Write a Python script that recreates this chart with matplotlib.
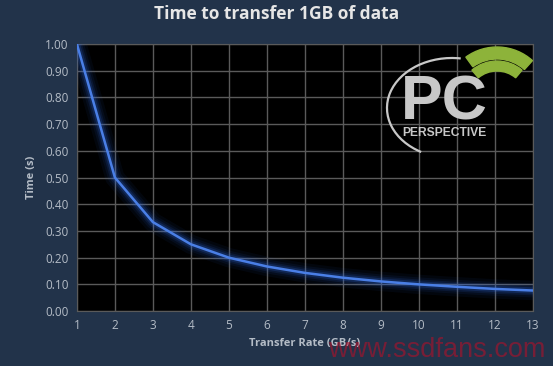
import matplotlib.pyplot as plt
from matplotlib.patches import Wedge, Arc

# data
rates = [1, 2, 3, 4, 5, 6, 7, 8, 9, 10, 11, 12, 13]
times = [1.00, 0.50, 0.333, 0.25, 0.20, 0.167, 0.143, 0.125, 0.111, 0.10, 0.091, 0.083, 0.077]
y_ticks = [0.0, 0.1, 0.2, 0.3, 0.4, 0.5, 0.6, 0.7, 0.8, 0.9, 1.0]

bg = '#22334a'
tick_col = '#b4bcc6'
H = 366

fig = plt.figure(figsize=(5.53, 3.66), dpi=100, facecolor=bg)
ax = fig.add_axes([0.139, 0.150, 0.825, 0.730])
ax.set_facecolor('black')

# glow around the line
for lw, a in [(14, 0.06), (10, 0.08), (7, 0.12), (4.5, 0.2)]:
    ax.plot(rates, times, color='#2f6ae0', lw=lw, alpha=a, solid_capstyle='round', zorder=3)
ax.plot(rates, times, color='#4a7fe6', lw=1.8, zorder=4)

ax.set_xlim(1, 13)
ax.set_ylim(0, 1)
ax.set_xticks(rates)
ax.set_yticks(y_ticks)
ax.set_yticklabels(['%.2f' % v for v in y_ticks])
ax.grid(True, color='#5a5a5a', lw=1)
ax.set_axisbelow(True)
for s in ax.spines.values():
    s.set_color('#5a5a5a')
ax.tick_params(length=0, colors=tick_col, labelsize=8.5, pad=6)
for lab in ax.get_xticklabels() + ax.get_yticklabels():
    lab.set_fontfamily('Open Sans')

ax.set_xlabel('Transfer Rate (GB/s)', color=tick_col, fontsize=8, fontweight='bold',
              fontfamily='Open Sans', labelpad=4)
ax.set_ylabel('Time (s)', color=tick_col, fontsize=8, fontweight='bold',
              fontfamily='Open Sans', labelpad=6)
fig.text(0.5, 0.962, 'Time to transfer 1GB of data', ha='center', va='center',
         color='#e6e6e6', fontsize=12.5, fontweight='bold', fontfamily='Open Sans')

# logo (approximation), pixel coords with y up
lax = fig.add_axes([0, 0, 1, 1], facecolor='none')
lax.set_xlim(0, 553)
lax.set_ylim(0, H)
lax.axis('off')
lax.add_patch(Arc((452, H - 108), 130, 100, theta1=80, theta2=235, color='#c8c8c8', lw=1.6))
lax.add_patch(Wedge((497, H - 100), 53, 48, 126, width=12, color='#8db33a'))
lax.add_patch(Wedge((497, H - 100), 39, 50, 130, width=10, color='#8db33a'))
lax.text(444, H - 120, 'PC', ha='center', va='baseline', color='#c8c8c8',
         fontsize=45, fontweight='bold', fontfamily='Liberation Sans')
lax.text(444, H - 136, 'PERSPECTIVE', ha='center', va='baseline', color='#c8c8c8',
         fontsize=8.7, fontweight='bold', fontfamily='Liberation Sans')

# watermark
fig.text(437 / 553, 1 - 350 / H, 'www.ssdfans.com', ha='center', va='center',
         color='#b0102a', alpha=0.6, fontsize=19.5, fontfamily='Liberation Sans')

fig.savefig('out.png', dpi=100, facecolor=bg)
